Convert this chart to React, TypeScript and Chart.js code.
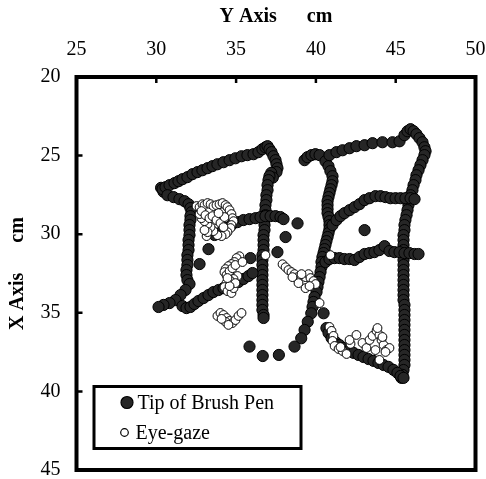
import React, { useEffect, useRef } from "react";
import { Chart, registerables } from "chart.js";
Chart.register(...registerables);

const xTicks = [25, 30, 35, 40, 45, 50];
const yTicks = [20, 25, 30, 35, 40, 45];
const xTitle = "Y Axis      cm";
const yTitle = "X Axis      cm";
const seriesLabels = ["Tip of Brush Pen", "Eye-gaze"];

// Tip of brush pen: [horizontal cm, vertical cm]
const brushPen: [number, number][] = [
  [30.30, 27.05], [30.45, 27.30],
  [30.39, 27.13], [30.58, 27.01], [30.83, 26.88], [31.14, 26.75], [31.39, 26.63], [31.64, 26.50], [31.95, 26.37],
  [32.27, 26.18], [32.58, 26.05], [32.89, 25.93], [33.21, 25.80], [33.52, 25.67], [33.83, 25.55], [34.21, 25.42],
  [34.59, 25.29], [34.96, 25.17], [35.34, 25.04], [35.71, 24.97], [36.09, 24.91], [36.40, 24.78], [36.65, 24.59],
  [36.84, 24.47], [36.97, 24.40], [37.09, 24.59], [37.22, 24.78], [37.34, 25.04], [37.47, 25.29], [37.53, 25.55],
  [37.59, 25.80], [37.53, 26.05],
  [37.20, 26.10], [37.30, 26.40],
  [37.09, 26.31], [37.03, 26.56], [36.97, 26.88], [36.97, 27.20], [36.90, 27.52], [36.90, 27.83], [36.84, 28.15],
  [36.84, 28.47], [36.84, 28.79], [36.78, 29.10], [36.78, 29.42], [36.78, 29.74], [36.72, 30.06], [36.72, 30.37],
  [36.72, 30.69], [36.72, 31.01], [36.65, 31.33], [36.65, 31.64], [36.65, 31.96], [36.65, 32.28], [36.65, 32.60],
  [36.65, 32.92], [36.65, 33.23], [36.65, 33.55], [36.65, 33.87], [36.65, 34.19], [36.65, 34.50], [36.65, 34.82],
  [36.72, 35.14], [36.72, 35.33],
  [30.70, 27.52], [31.08, 27.64], [31.45, 27.77], [31.77, 27.90], [32.02, 28.09], [32.14, 28.34], [32.21, 28.60],
  [32.14, 28.85], [32.14, 29.10], [32.08, 29.42], [32.08, 29.74], [32.08, 30.06], [32.02, 30.37], [32.02, 30.69],
  [32.02, 31.01], [31.95, 31.33], [31.95, 31.64], [31.95, 31.96], [31.89, 32.28], [31.89, 32.60], [31.95, 32.92],
  [32.08, 33.17], [31.83, 33.55], [31.52, 33.87], [31.20, 34.19], [30.83, 34.38], [30.45, 34.50], [30.14, 34.63],
  [31.64, 34.57], [31.89, 34.70], [32.14, 34.63], [32.39, 34.44], [32.64, 34.25], [32.96, 34.06], [33.27, 33.87],
  [33.58, 33.68], [33.90, 33.55], [34.21, 33.43], [34.52, 33.30], [34.84, 33.17], [35.15, 33.04], [35.46, 32.85],
  [35.78, 32.66], [36.03, 32.47],
  [33.65, 30.05], [33.90, 29.95],
  [34.09, 29.87], [34.40, 29.61], [34.71, 29.42], [35.09, 29.23], [35.46, 29.10], [35.84, 29.04], [36.22, 28.98],
  [36.53, 28.91], [36.84, 28.85], [37.16, 28.85], [37.47, 28.85], [37.78, 28.91], [37.97, 29.04],
  [38.85, 29.31], [38.10, 30.18], [37.59, 31.14], [35.90, 31.52], [33.27, 30.95], [32.71, 31.90], [43.05, 29.74],
  [40.48, 35.03],
  [39.29, 25.29], [39.47, 25.10], [39.72, 24.97], [39.97, 24.91], [40.23, 24.97], [40.60, 25.36], [40.79, 25.67],
  [40.91, 25.99], [41.04, 26.31], [41.04, 26.63], [40.98, 26.88], [40.91, 27.14], [40.85, 27.39], [40.79, 27.64],
  [40.73, 27.90], [40.73, 28.15], [40.73, 28.41], [40.73, 28.66], [40.79, 28.91], [40.85, 29.17], [40.85, 29.42],
  [40.85, 29.68], [40.79, 29.93], [40.73, 30.18], [40.66, 30.44], [40.60, 30.69], [40.54, 30.95], [40.48, 31.20],
  [40.41, 31.45], [40.35, 31.77], [40.35, 32.09], [40.29, 32.41], [40.23, 32.73], [40.16, 33.04], [40.10, 33.36],
  [40.04, 33.68], [39.91, 34.00], [39.85, 34.31], [39.79, 34.63],
  [39.71, 35.03], [39.49, 35.57], [39.29, 36.09], [39.08, 36.62], [38.66, 37.15], [37.68, 37.68], [36.67, 37.75],
  [35.84, 37.15],
  [40.85, 24.97], [41.29, 24.78], [41.67, 24.66], [42.11, 24.53], [42.54, 24.40], [43.05, 24.34], [43.55, 24.21],
  [44.17, 24.15], [44.80, 24.15], [45.24, 24.09], [45.55, 23.70], [45.74, 23.45], [45.93, 23.32], [46.12, 23.45],
  [46.30, 23.64], [46.49, 23.89], [46.68, 24.15], [46.80, 24.47], [46.87, 24.72], [46.80, 24.97], [46.68, 25.29],
  [46.55, 25.61], [46.43, 25.93], [46.30, 26.25], [46.24, 26.56], [46.12, 26.88], [46.05, 27.20], [45.93, 27.52],
  [45.86, 27.83], [45.80, 28.15], [45.74, 28.47], [45.68, 28.79], [45.61, 29.10], [45.55, 29.42], [45.55, 29.74],
  [45.49, 30.06], [45.49, 30.37], [45.49, 30.69], [45.49, 31.01], [45.49, 31.33], [45.49, 31.64], [45.49, 31.96],
  [45.49, 32.28], [45.49, 32.60], [45.49, 32.92], [45.49, 33.23], [45.49, 33.55], [45.49, 33.87], [45.49, 34.19],
  [45.55, 34.50], [45.55, 34.82], [45.55, 35.14], [45.55, 35.46], [45.55, 35.77], [45.55, 36.09], [45.55, 36.41],
  [45.55, 36.73], [45.55, 37.05], [45.55, 37.37], [45.55, 37.68], [45.55, 38.00], [45.55, 38.32], [45.49, 38.64],
  [45.43, 38.95], [45.36, 39.14],
  [41.04, 29.42], [41.29, 29.10], [41.54, 28.85], [41.79, 28.66], [42.11, 28.47], [42.42, 28.28], [42.73, 28.09],
  [43.05, 27.83], [43.36, 27.71], [43.73, 27.58], [44.05, 27.58], [44.36, 27.64], [44.67, 27.71], [44.99, 27.71],
  [45.30, 27.71], [45.61, 27.71], [45.93, 27.71], [46.18, 27.77],
  [40.60, 31.77], [40.85, 31.58], [41.17, 31.52], [41.48, 31.52], [41.79, 31.58], [42.11, 31.58], [42.42, 31.64],
  [42.73, 31.45], [43.05, 31.26], [43.36, 31.20], [43.67, 31.14], [43.98, 31.01], [44.30, 30.76], [44.61, 31.07],
  [44.92, 31.14], [45.24, 31.14], [45.55, 31.20], [45.86, 31.20], [46.18, 31.26], [46.43, 31.26],
  [40.66, 35.97], [40.79, 36.28], [40.98, 36.60], [41.23, 36.86], [41.48, 37.05], [41.73, 37.24], [42.04, 37.43],
  [42.36, 37.55], [42.67, 37.68], [42.98, 37.81], [43.30, 37.94], [43.61, 38.06], [43.92, 38.19], [44.24, 38.32],
  [44.55, 38.44], [44.86, 38.63], [45.11, 38.82], [45.30, 39.02], [45.49, 39.14],
];

// Eye-gaze: [horizontal cm, vertical cm]
const eyeGaze: [number, number][] = [
  [32.52, 28.21], [32.71, 28.28], [32.89, 28.09], [33.02, 28.15], [33.21, 28.02], [33.40, 28.09], [33.58, 28.21],
  [33.77, 28.15], [33.96, 28.09], [34.15, 28.02], [34.34, 28.15], [34.46, 28.28], [34.59, 28.47], [34.71, 28.72],
  [34.77, 28.98], [34.84, 29.17], [34.71, 29.42], [34.65, 29.61], [34.46, 29.87], [34.34, 29.99], [34.09, 30.12],
  [33.83, 30.06], [33.58, 29.80], [33.40, 29.55], [33.21, 29.36], [33.02, 29.17], [32.83, 28.98], [32.71, 28.72],
  [32.83, 28.53], [33.08, 28.79], [33.33, 28.98], [33.52, 28.85], [33.77, 29.10], [34.02, 29.29], [34.27, 28.91],
  [34.21, 29.55], [33.15, 30.12], [33.21, 29.87], [33.02, 29.74], [33.90, 28.66],
  [35.21, 31.40], [35.03, 31.52], [34.90, 31.77], [34.71, 31.90], [34.52, 32.03], [34.34, 32.22], [34.27, 32.41],
  [34.40, 32.60], [34.59, 32.35], [34.77, 32.16], [34.96, 31.96], [35.09, 32.66], [34.84, 32.85], [34.59, 32.92],
  [34.40, 33.11], [34.27, 33.36], [34.46, 33.62], [34.71, 33.74], [34.84, 33.43], [34.96, 33.11], [34.59, 33.30],
  [35.40, 31.77], [34.46, 32.79],
  [33.83, 35.20], [34.02, 35.01], [34.21, 35.14], [34.40, 35.33], [34.59, 35.52], [34.77, 35.65], [34.96, 35.46],
  [35.15, 35.20], [35.34, 35.01], [34.34, 35.58], [34.09, 35.39], [34.52, 35.77],
  [37.91, 31.91], [38.10, 32.10], [38.28, 32.28], [38.47, 32.41], [38.66, 32.54], [38.85, 32.73], [39.04, 32.92],
  [39.22, 33.11], [39.35, 32.73], [39.54, 32.54], [39.66, 32.79], [39.85, 32.98], [39.98, 33.17], [39.35, 33.43],
  [38.91, 33.11], [38.53, 32.73], [39.10, 32.54], [39.60, 33.30],
  [36.84, 31.33], [40.23, 34.38], [40.91, 31.33],
  [40.85, 35.90], [40.98, 36.15], [41.10, 36.47], [41.04, 36.79], [41.17, 37.11], [41.42, 37.30], [41.67, 37.43],
  [41.92, 37.62], [42.17, 36.98], [42.11, 36.73], [42.54, 36.41], [42.92, 36.92], [43.17, 37.24], [43.36, 36.73],
  [43.55, 36.47], [43.80, 36.15], [43.98, 36.41], [44.11, 36.73], [44.24, 37.05], [44.42, 37.37], [44.61, 37.24],
  [44.36, 37.49], [43.98, 38.00], [43.73, 37.37], [43.86, 35.97], [44.17, 36.54], [41.54, 37.18],
];

const FONT = "'Liberation Serif', 'Times New Roman', serif";
const BRUSH_FILL = "#262626";

export default function App() {
  const ref = useRef<HTMLCanvasElement>(null);

  useEffect(() => {
    if (!ref.current) return;

    const framePlugin = {
      id: "frameAndLegend",
      afterDraw(chart: any) {
        const { ctx, chartArea: ca, scales } = chart;
        ctx.save();
        // frame
        ctx.strokeStyle = "#000";
        ctx.lineWidth = 4;
        ctx.strokeRect(ca.left, ca.top, ca.right - ca.left, ca.bottom - ca.top);
        // inward tick marks
        ctx.lineWidth = 2.5;
        ctx.beginPath();
        xTicks.slice(1, -1).forEach((v) => {
          const px = scales.x.getPixelForValue(v);
          ctx.moveTo(px, ca.top);
          ctx.lineTo(px, ca.top + 6);
        });
        yTicks.slice(1, -1).forEach((v) => {
          const py = scales.y.getPixelForValue(v);
          ctx.moveTo(ca.left, py);
          ctx.lineTo(ca.left + 6, py);
        });
        ctx.stroke();

        // legend box
        const bx = ca.left + 17.5;
        const by = ca.bottom - 83.5;
        const bw = 207;
        const bh = 62;
        ctx.fillStyle = "#fff";
        ctx.fillRect(bx, by, bw, bh);
        ctx.lineWidth = 3;
        ctx.strokeRect(bx, by, bw, bh);
        const entries = [
          { label: chart.data.datasets[0].label, fill: BRUSH_FILL, r: 6, mx: bx + 33, tx: bx + 43.5, y: by + 16 },
          { label: chart.data.datasets[1].label, fill: "#fff", r: 3.8, mx: bx + 30.5, tx: bx + 41.5, y: by + 46 },
        ];
        ctx.font = `20px ${FONT}`;
        ctx.textBaseline = "middle";
        ctx.textAlign = "left";
        entries.forEach((e) => {
          ctx.beginPath();
          ctx.arc(e.mx, e.y, e.r, 0, Math.PI * 2);
          ctx.fillStyle = e.fill;
          ctx.fill();
          ctx.lineWidth = 1.2;
          ctx.strokeStyle = "#000";
          ctx.stroke();
          ctx.fillStyle = "#000";
          ctx.fillText(e.label, e.tx, e.y + 1);
        });
        ctx.restore();
      },
    };

    const chart = new Chart(ref.current, {
      type: "scatter",
      data: {
        datasets: [
          {
            label: seriesLabels[0],
            data: brushPen.map(([x, y]) => ({ x, y })),
            pointRadius: 5.6,
            pointBorderWidth: 1,
            backgroundColor: BRUSH_FILL,
            borderColor: "#000",
            order: 2,
          },
          {
            label: seriesLabels[1],
            data: eyeGaze.map(([x, y]) => ({ x, y })),
            pointRadius: 4.4,
            pointBorderWidth: 1,
            backgroundColor: "#fff",
            borderColor: "#000",
            order: 1,
          },
        ],
      },
      options: {
        responsive: false,
        animation: false,
        layout: { padding: { left: 0, top: 0, right: 10.5, bottom: 9 } },
        plugins: { legend: { display: false }, tooltip: { enabled: false } },
        scales: {
          x: {
            type: "linear",
            position: "top",
            min: xTicks[0],
            max: xTicks[xTicks.length - 1],
            afterBuildTicks: (s: any) => {
              s.ticks = xTicks.map((v) => ({ value: v }));
            },
            afterFit: (s: any) => {
              s.height = 77;
              s.paddingLeft = 0;
              s.paddingRight = 0;
            },
            ticks: {
              font: { family: FONT, size: 20 },
              color: "#000",
              padding: 15.5,
              maxRotation: 0,
              autoSkip: false,
            },
            grid: { display: false, drawTicks: false },
            border: { display: false },
            title: {
              display: true,
              text: xTitle,
              font: { family: FONT, size: 20, weight: "bold" },
              color: "#000",
              padding: { top: 4.5, bottom: 0 },
            },
          },
          y: {
            type: "linear",
            position: "left",
            reverse: true,
            min: yTicks[0],
            max: yTicks[yTicks.length - 1],
            afterBuildTicks: (s: any) => {
              s.ticks = yTicks.map((v) => ({ value: v }));
            },
            afterFit: (s: any) => {
              s.width = 76.5;
              s.paddingTop = 0;
              s.paddingBottom = 0;
            },
            ticks: {
              font: { family: FONT, size: 20 },
              color: "#000",
              padding: 16,
              autoSkip: false,
            },
            grid: { display: false, drawTicks: false },
            border: { display: false },
            title: {
              display: true,
              text: yTitle,
              font: { family: FONT, size: 20, weight: "bold" },
              color: "#000",
              padding: { top: 5.5, bottom: 0 },
            },
          },
        },
      },
      plugins: [framePlugin],
    } as any);

    return () => chart.destroy();
  }, []);

  return (
    <div style={{ position: "fixed", left: 0, top: 0, width: 486, height: 479, background: "#fff" }}>
      <canvas ref={ref} width={486} height={479} style={{ display: "block" }} />
    </div>
  );
}
